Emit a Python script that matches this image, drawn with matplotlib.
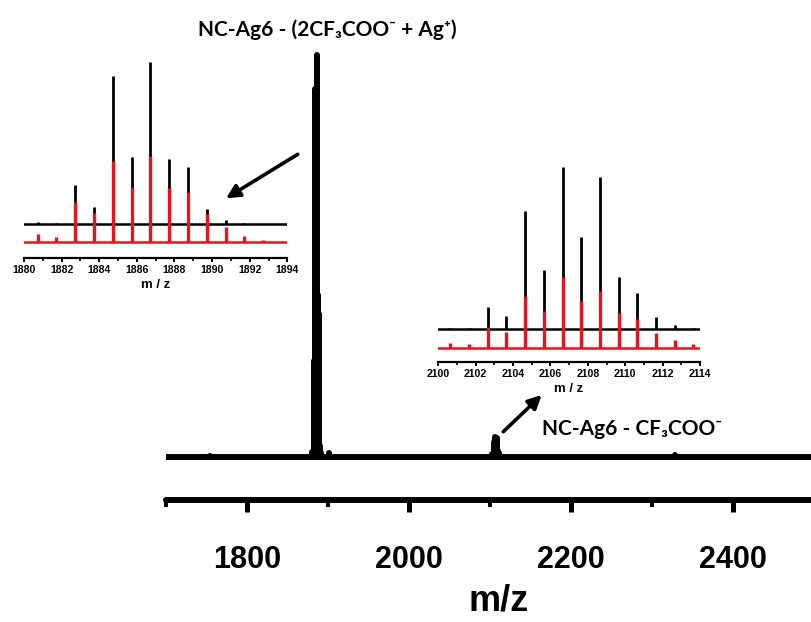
import matplotlib.pyplot as plt

plt.rcParams['font.family'] = ['Liberation Sans', 'DejaVu Sans']

# isotope cluster of NC-Ag6 - (2CF3COO- + Ag+), relative intensity (%)
mz1 = [1880.72, 1881.72, 1882.72, 1883.72, 1884.72, 1885.72, 1886.72,
       1887.72, 1888.72, 1889.72, 1890.72, 1891.72, 1892.72]
exp1 = [1.2, 0.8, 24.0, 11.0, 91.5, 41.4, 100.0, 40.3, 35.6, 9.3, 2.7, 1.0, 0.3]
sim1 = [9.3, 6.6, 47.0, 33.6, 94.7, 63.4, 100.0, 63.0, 58.0, 32.8, 17.4, 7.3, 2.3]

# isotope cluster of NC-Ag6 - CF3COO-, relative intensity (%)
mz2 = [2100.65, 2101.65, 2102.65, 2103.65, 2104.65, 2105.65, 2106.65,
       2107.65, 2108.65, 2109.65, 2110.65, 2111.65, 2112.65, 2113.65]
exp2 = [0.4, 0.2, 13.6, 7.9, 73.2, 36.4, 100.0, 56.6, 94.2, 31.8, 22.3, 7.0, 2.5, 0.6]
sim2 = [6.6, 5.2, 29.2, 22.2, 73.1, 51.9, 100.0, 66.0, 80.2, 49.5, 40.0, 21.2, 11.3, 5.7]

# height of the second cluster in the full spectrum (% of base peak)
cluster2_scale = 5.0
# weak extra signals in the full spectrum
mz_minor = [1755.0, 1902.0, 2328.0]
int_minor = [0.2, 1.0, 0.5]

main_ticks = [1800, 2000, 2200, 2400]
main_minor = [1700, 1900, 2100, 2300, 2500]
red = '#e3161e'
label_font = ['Lato', 'DejaVu Sans']

fig = plt.figure(figsize=(8.11, 6.22), dpi=100)

# full spectrum
ax = fig.add_axes([0.2042, 0.1961, 0.8200, 0.7395])
ax.set_xlim(1700, 2520)
ax.set_ylim(-10.70, 103.73)
ax.axhline(0, color='black', lw=4.3, zorder=2)
top1 = max(exp1)
lc = ax.vlines(mz1, 0, [v * 100 / top1 for v in exp1], color='black', lw=4.3)
lc.set_capstyle('round')
lc = ax.vlines(mz2, 0, [v * cluster2_scale / 100 for v in exp2], color='black', lw=4.3)
lc.set_capstyle('round')
lc = ax.vlines(mz_minor, 0, int_minor, color='black', lw=4.3)
lc.set_capstyle('round')

for side in ['left', 'top', 'right']:
    ax.spines[side].set_visible(False)
ax.spines['bottom'].set_linewidth(4.3)
ax.spines['bottom'].set_capstyle('round')
ax.set_yticks([])
ax.set_xticks(main_ticks)
ax.set_xticks(main_minor, minor=True)
ax.tick_params(axis='x', which='major', length=8.4, width=3.6, pad=24,
               labelsize=22)
ax.tick_params(axis='x', which='minor', length=5, width=2.9)
for t in ax.get_xticklabels():
    t.set_fontweight('bold')
ax.set_xlabel('m/z', fontsize=26, fontweight='bold', labelpad=6)


def inset(rect, mz, exp, sim, exp_base, sim_base, exp_k, sim_k, xlim):
    a = fig.add_axes(rect)
    a.set_facecolor('none')
    a.set_xlim(*xlim)
    a.set_ylim(0, 200)
    a.axhline(exp_base, color='black', lw=1.8, zorder=1)
    a.vlines(mz, exp_base, [exp_base + v * exp_k for v in exp],
             color='black', lw=2.0, zorder=2)
    a.axhline(sim_base, color=red, lw=1.8, zorder=3)
    a.vlines(mz, sim_base, [sim_base + v * sim_k for v in sim],
             color=red, lw=2.4, zorder=4)
    for side in ['left', 'top', 'right']:
        a.spines[side].set_visible(False)
    a.spines['bottom'].set_linewidth(1.6)
    a.set_yticks([])
    a.set_xticks(range(int(xlim[0]), int(xlim[1]) + 1, 2))
    a.set_xticks(range(int(xlim[0]) + 1, int(xlim[1]), 2), minor=True)
    a.tick_params(axis='x', which='major', length=3, width=1.4, pad=2,
                  labelsize=7.6)
    a.tick_params(axis='x', which='minor', length=2, width=1.2)
    for t in a.get_xticklabels():
        t.set_fontweight('bold')
    a.set_xlabel('m / z', fontsize=9.5, fontweight='bold', labelpad=3)
    return a


inset([0.0296, 0.5847, 0.3247, 0.3215], mz1, exp1, sim1,
      34, 16, 1.62, 0.863, (1880, 1894))
inset([0.5404, 0.4185, 0.3227, 0.3215], mz2, exp2, sim2,
      33, 14, 1.613, 0.707, (2100, 2114))

arrow = dict(arrowstyle='-|>', lw=2.6, color='black', mutation_scale=20,
             shrinkA=0, shrinkB=0)
fig.add_artist(plt.Annotation('', xy=(226 / 811, 1 - 198.3 / 622),
                              xytext=(297.7 / 811, 1 - 154.3 / 622),
                              xycoords='figure fraction',
                              textcoords='figure fraction', arrowprops=arrow))
fig.add_artist(plt.Annotation('', xy=(541.7 / 811, 1 - 395 / 622),
                              xytext=(503.3 / 811, 1 - 431.7 / 622),
                              xycoords='figure fraction',
                              textcoords='figure fraction', arrowprops=arrow))

fig.text(327 / 811, 1 - 35.7 / 622, 'NC-Ag6 - (2CF\u2083COO\u207b + Ag\u207a)',
         family=label_font, fontweight='bold', fontsize=15,
         ha='center', va='baseline')
fig.text(541.7 / 811, 1 - 435 / 622, 'NC-Ag6 - CF\u2083COO\u207b',
         family=label_font, fontweight='bold', fontsize=15,
         ha='left', va='baseline')

fig.savefig('out.png', dpi=100)
